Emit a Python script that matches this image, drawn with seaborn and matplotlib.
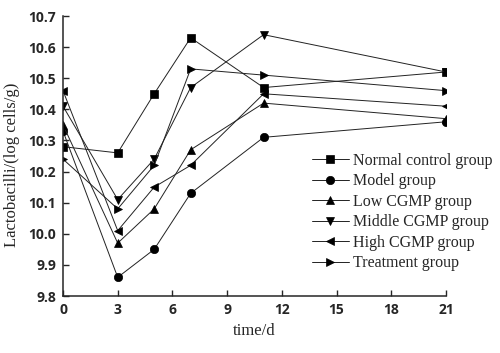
import matplotlib
matplotlib.use('Agg')
import matplotlib.pyplot as plt
import pandas as pd
import seaborn as sns

# Data
days = [0, 3, 5, 7, 11, 21]
groups = ['Normal control group', 'Model group', 'Low CGMP group',
          'Middle CGMP group', 'High CGMP group', 'Treatment group']
normal = [10.28, 10.26, 10.45, 10.63, 10.47, 10.52]
model = [10.33, 9.86, 9.95, 10.13, 10.31, 10.36]
low = [10.35, 9.97, 10.08, 10.27, 10.42, 10.37]
middle = [10.41, 10.11, 10.24, 10.47, 10.64, 10.52]
high = [10.46, 10.01, 10.15, 10.22, 10.45, 10.41]
treatment = [10.24, 10.08, 10.22, 10.53, 10.51, 10.46]
markers = ['s', 'o', '^', 'v', '<', '>']

series = [normal, model, low, middle, high, treatment]
df = pd.DataFrame({'time': days * len(groups),
                   'value': sum(series, []),
                   'group': [g for g in groups for _ in days]})

sns.set_style('ticks')
serif = 'Liberation Serif'
tick_font = 'Open Sans'

fig = plt.figure(figsize=(5.0, 3.53), dpi=100)
ax = fig.add_axes([63/500, 1 - 296/353, (446 - 63)/500, (296 - 16)/353])

for g, m in zip(groups, markers):
    sub = df[df['group'] == g]
    sns.lineplot(data=sub, x='time', y='value', marker=m, color='#222222',
                 lw=0.7, markersize=6, mfc='black', mec='black', mew=0.5,
                 label=g, ax=ax)

ax.set_xlim(0, 21)
ax.set_ylim(9.8, 10.7)
ax.set_xticks(range(0, 22, 3))
yt = [9.8 + 0.1 * i for i in range(10)]
ax.set_yticks(yt)
ax.set_yticklabels([f'{v:.1f}' for v in yt])
ax.tick_params(direction='in', length=4, width=1.0, pad=5)
for lab in ax.get_xticklabels() + ax.get_yticklabels():
    lab.set_fontfamily(tick_font)
    lab.set_fontweight('bold')
    lab.set_fontsize(10)

sns.despine(ax=ax)
for s in ['left', 'bottom']:
    ax.spines[s].set_linewidth(1.1)

ax.set_xlabel('time/d', fontfamily=serif, fontsize=12)
ax.set_ylabel('Lactobacilli/(log cells/g)', fontfamily=serif, fontsize=12)
ax.xaxis.set_label_coords(0.50, -0.095)
ax.yaxis.set_label_coords(-0.112, 0.468)

leg = ax.legend(loc='upper left', bbox_to_anchor=(304/500, 1 - 145/353),
                bbox_transform=fig.transFigure, frameon=False, borderpad=0,
                handlelength=2.3, handletextpad=0.25, labelspacing=0.28,
                prop={'family': serif, 'size': 11.5})

fig.savefig('out.png', dpi=100)
